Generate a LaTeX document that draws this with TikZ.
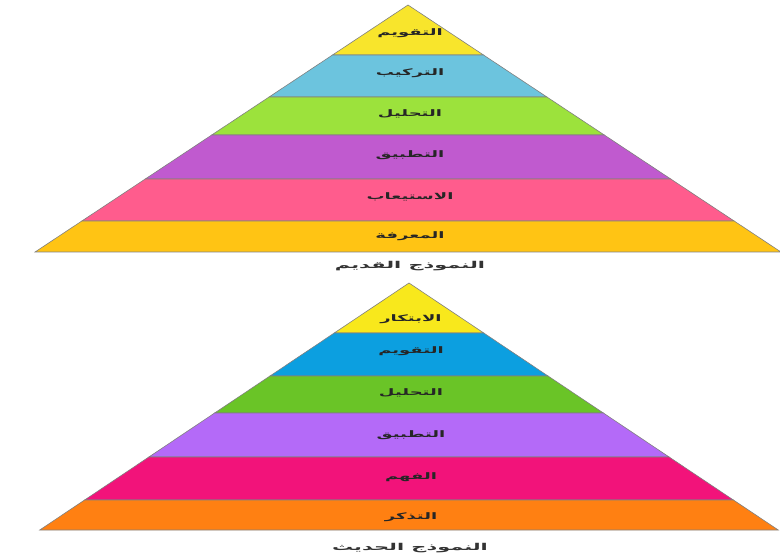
\documentclass[tikz,border=0pt]{standalone}
\usepackage{fontspec}
\newfontfamily\arabicfont[Script=Arabic,FakeStretch=2.0]{DejaVu Sans}
\newfontfamily\captionfont[Script=Arabic,FakeStretch=2.2]{DejaVu Sans}
\TeXXeTstate=1
\usetikzlibrary{positioning}
\definecolor{oldyellow}{HTML}{F8E52C}
\definecolor{oldblue}{HTML}{6CC4DE}
\definecolor{oldgreen}{HTML}{9CE23C}
\definecolor{oldpurple}{HTML}{C05ACF}
\definecolor{oldpink}{HTML}{FF5C8D}
\definecolor{oldgold}{HTML}{FFC414}
\definecolor{newyellow}{HTML}{F8E81C}
\definecolor{newblue}{HTML}{0C9FE0}
\definecolor{newgreen}{HTML}{6AC427}
\definecolor{newviolet}{HTML}{B46AF8}
\definecolor{newmagenta}{HTML}{F2137A}
\definecolor{neworange}{HTML}{FF8012}
\tikzset{
  layer/.style={draw=black!50, line width=0.6pt, line join=miter},
  levelname/.style={font=\fontsize{9}{10}\selectfont\arabicfont\bfseries, text=black!85, inner sep=1pt},
  caption/.style={font=\fontsize{9.5}{11}\selectfont\captionfont\bfseries, text=black!80, inner sep=1pt}
}

\begin{document}
\begin{tikzpicture}[x=1pt, y=-1pt]
  \useasboundingbox (0,0) rectangle (780,559);
  % old model
  \foreach \t/\b/\ly/\c/\lbl [count=\i] in {5/55/33/oldyellow/التقويم, 55/97/73/oldblue/التركيب,
      97/135/114/oldgreen/التحليل, 135/179/155/oldpurple/التطبيق, 179/221/197/oldpink/الاستيعاب,
      221/252/236/oldgold/المعرفة} {
    \pgfmathsetmacro\wt{1.51*(\t-5)}
    \pgfmathsetmacro\wb{1.51*(\b-5)}
    \filldraw[layer, fill=\c] (408-\wt,\t) -- (408+\wt,\t) -- (408+\wb,\b) -- (408-\wb,\b) -- cycle;
    \node[levelname] (old\i) at (410,\ly) {\beginR\lbl\endR};
  }
  \node[caption] (oldcap) at (410,266) {\beginR النموذج القديم\endR};
  % new model
  \foreach \t/\b/\ly/\c/\lbl [count=\i] in {283/333/319/newyellow/الابتكار, 333/376/351/newblue/التقويم,
      376/413/393/newgreen/التحليل, 413/457/435/newviolet/التطبيق, 457/500/477/newmagenta/الفهم,
      500/530/517/neworange/التذكر} {
    \pgfmathsetmacro\wt{1.495*(\t-283)}
    \pgfmathsetmacro\wb{1.495*(\b-283)}
    \filldraw[layer, fill=\c] (409-\wt,\t) -- (409+\wt,\t) -- (409+\wb,\b) -- (409-\wb,\b) -- cycle;
    \node[levelname] (new\i) at (411,\ly) {\beginR\lbl\endR};
  }
  \node[caption] (newcap) at (410,548) {\beginR النموذج الحديث\endR};
\end{tikzpicture}
\end{document}
